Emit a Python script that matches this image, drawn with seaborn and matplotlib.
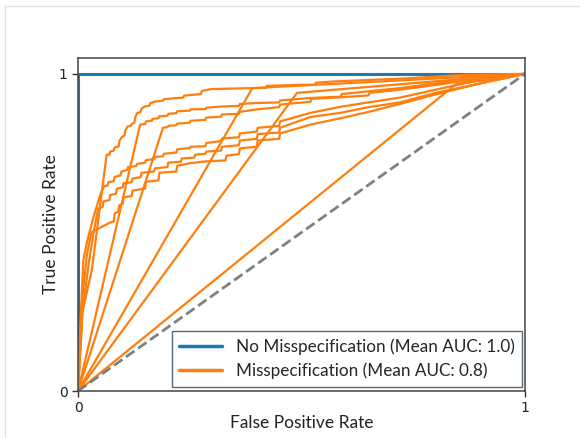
import matplotlib
matplotlib.use("Agg")
import matplotlib.pyplot as plt
from matplotlib.lines import Line2D
import pandas as pd
import seaborn as sns

# ---------------- data ----------------
no_mis_fpr = [0.0, 0.0, 1.0]
no_mis_tpr = [0.0, 1.0, 1.0]

s1_fpr = [0, 0.010, 0.031, 0.064, 0.070, 0.072, 0.080, 0.082, 0.091, 0.093, 0.099, 0.104,
          0.106, 0.111, 0.118, 0.120, 0.126, 0.128, 0.132, 0.140, 0.142, 0.149, 0.160,
          0.162, 0.174, 0.190, 0.192, 0.215, 0.235, 0.237, 0.256, 0.275, 0.277, 0.298,
          0.389, 0.420, 0.422, 0.489, 0.530, 0.532, 0.572, 0.655, 0.738, 0.862, 1.0]
s1_tpr = [0, 0.250, 0.382, 0.745, 0.745, 0.755, 0.758, 0.768, 0.771, 0.790, 0.802, 0.805,
          0.822, 0.834, 0.836, 0.842, 0.846, 0.862, 0.876, 0.880, 0.890, 0.897, 0.900,
          0.908, 0.913, 0.915, 0.920, 0.923, 0.925, 0.931, 0.934, 0.936, 0.946, 0.952,
          0.955, 0.956, 0.962, 0.965, 0.966, 0.972, 0.976, 0.981, 0.986, 0.997, 1.0]

c2_fpr = [0, 0.139, 0.150, 0.152, 0.165, 0.167, 0.180, 0.182, 0.200, 0.202, 0.220, 0.222,
          0.250, 0.252, 0.285, 0.287, 0.320, 0.360, 0.362, 0.400, 0.450, 0.452, 0.520,
          0.587, 0.590, 0.650, 0.720, 0.800, 0.880, 1.0]
c2_tpr = [0, 0.840, 0.842, 0.850, 0.852, 0.858, 0.860, 0.866, 0.868, 0.874, 0.876, 0.882,
          0.884, 0.888, 0.889, 0.893, 0.897, 0.899, 0.905, 0.908, 0.910, 0.916, 0.924,
          0.928, 0.936, 0.945, 0.955, 0.970, 0.985, 1.0]

c3_fpr = [0, 0.190, 0.200, 0.202, 0.220, 0.222, 0.250, 0.252, 0.285, 0.287, 0.320, 0.322,
          0.360, 0.362, 0.400, 0.450, 0.452, 0.520, 0.522, 0.587, 0.650, 0.652, 0.720,
          0.800, 0.900, 1.0]
c3_tpr = [0, 0.830, 0.832, 0.836, 0.838, 0.843, 0.846, 0.852, 0.855, 0.862, 0.865, 0.872,
          0.874, 0.880, 0.888, 0.895, 0.903, 0.912, 0.921, 0.926, 0.932, 0.940, 0.950,
          0.965, 0.985, 1.0]

m1_fpr = [0, 0.005, 0.012, 0.020, 0.035, 0.050, 0.058, 0.066, 0.068, 0.080, 0.082, 0.095,
          0.097, 0.110, 0.112, 0.130, 0.132, 0.150, 0.152, 0.170, 0.172, 0.190, 0.192,
          0.220, 0.222, 0.250, 0.252, 0.285, 0.287, 0.320, 0.322, 0.360, 0.362, 0.400,
          0.402, 0.450, 0.452, 0.520, 0.587, 0.650, 0.720, 0.800, 0.880, 1.0]
m1_tpr = [0, 0.200, 0.413, 0.470, 0.550, 0.620, 0.645, 0.648, 0.658, 0.662, 0.675, 0.680,
          0.692, 0.697, 0.706, 0.709, 0.716, 0.720, 0.728, 0.731, 0.738, 0.740, 0.748,
          0.752, 0.762, 0.766, 0.770, 0.772, 0.782, 0.788, 0.796, 0.800, 0.812, 0.818,
          0.830, 0.836, 0.850, 0.877, 0.896, 0.910, 0.925, 0.950, 0.975, 1.0]

m2_fpr = [0, 0.010, 0.025, 0.035, 0.045, 0.055, 0.057, 0.070, 0.072, 0.085, 0.087, 0.100,
          0.102, 0.120, 0.122, 0.140, 0.142, 0.170, 0.172, 0.200, 0.202, 0.230, 0.232,
          0.260, 0.262, 0.285, 0.287, 0.320, 0.322, 0.360, 0.362, 0.400, 0.402, 0.450,
          0.452, 0.520, 0.587, 0.650, 0.720, 0.800, 0.900, 1.0]
m2_tpr = [0, 0.250, 0.413, 0.500, 0.575, 0.580, 0.598, 0.602, 0.618, 0.622, 0.638, 0.642,
          0.655, 0.658, 0.670, 0.674, 0.688, 0.692, 0.702, 0.706, 0.720, 0.723, 0.733,
          0.736, 0.745, 0.748, 0.755, 0.758, 0.770, 0.775, 0.790, 0.795, 0.810, 0.815,
          0.830, 0.864, 0.877, 0.895, 0.910, 0.940, 0.970, 1.0]

m3_fpr = [0, 0.010, 0.020, 0.030, 0.050, 0.070, 0.080, 0.082, 0.090, 0.092, 0.100, 0.102,
          0.120, 0.122, 0.150, 0.152, 0.180, 0.182, 0.220, 0.222, 0.250, 0.285, 0.330,
          0.332, 0.360, 0.362, 0.400, 0.402, 0.450, 0.452, 0.520, 0.587, 0.650, 0.720,
          0.800, 0.900, 1.0]
m3_tpr = [0, 0.300, 0.430, 0.500, 0.515, 0.530, 0.535, 0.560, 0.565, 0.585, 0.590, 0.610,
          0.615, 0.632, 0.638, 0.660, 0.664, 0.688, 0.692, 0.710, 0.718, 0.724, 0.727,
          0.742, 0.747, 0.765, 0.770, 0.790, 0.795, 0.812, 0.840, 0.860, 0.880, 0.905,
          0.935, 0.970, 1.0]

la_fpr = [0, 0.390, 1.0]
la_tpr = [0, 0.955, 1.0]
lb_fpr = [0, 0.490, 1.0]
lb_tpr = [0, 0.940, 1.0]
lc_fpr = [0, 0.845, 1.0]
lc_tpr = [0, 0.967, 1.0]

chance = [0.0, 1.0]

legend_labels = ["No Misspecification (Mean AUC: 1.0)", "Misspecification (Mean AUC: 0.8)"]
tick_vals = [0, 1]
tick_text = ["0", "1"]

# ---------------- table for seaborn ----------------
curves = [
    ("s1", s1_fpr, s1_tpr), ("c2", c2_fpr, c2_tpr), ("c3", c3_fpr, c3_tpr),
    ("m1", m1_fpr, m1_tpr), ("m2", m2_fpr, m2_tpr), ("m3", m3_fpr, m3_tpr),
    ("la", la_fpr, la_tpr), ("lb", lb_fpr, lb_tpr), ("lc", lc_fpr, lc_tpr),
]
rows = []
for name, xs, ys in curves:
    for i, (x, y) in enumerate(zip(xs, ys)):
        rows.append({"curve": name, "order": i, "fpr": x, "tpr": y})
mis_df = pd.DataFrame(rows)
nomis_df = pd.DataFrame({"fpr": no_mis_fpr, "tpr": no_mis_tpr})
chance_df = pd.DataFrame({"fpr": chance, "tpr": chance})

BLUE = "#1f77b4"
ORANGE = "#ff7f0e"

sns.set_style("ticks")
label_font = ["Lato", "DejaVu Sans"]

fig = plt.figure(figsize=(5.8, 4.38), dpi=100)
ax = fig.add_axes([0.1345, 0.1073, 0.7707, 0.7603])

sns.lineplot(data=nomis_df, x="fpr", y="tpr", sort=False, estimator=None,
             color=BLUE, lw=2.2, ax=ax)
sns.lineplot(data=mis_df, x="fpr", y="tpr", units="curve", sort=False, estimator=None,
             color=ORANGE, lw=1.6, ax=ax)
sns.lineplot(data=chance_df, x="fpr", y="tpr", sort=False, estimator=None,
             color="gray", lw=2, linestyle="--", ax=ax)

ax.set_xlim(0, 1)
ax.set_ylim(0, 1.05)
ax.set_xticks(tick_vals)
ax.set_xticklabels(tick_text)
ax.set_yticks(tick_vals)
ax.set_yticklabels(tick_text)
ax.tick_params(axis="both", labelsize=10, length=4, width=1, color="#333333",
               labelcolor="#222222", direction="out")
for sp in ax.spines.values():
    sp.set_visible(True)
    sp.set_color("#444444")
    sp.set_linewidth(1.1)

ax.set_xlabel("False Positive Rate", fontsize=12.5, family=label_font, color="#222222",
              labelpad=0)
ax.set_ylabel("True Positive Rate", fontsize=12.5, family=label_font, color="#222222",
              labelpad=0)

handles = [Line2D([], [], color=BLUE, lw=2.5), Line2D([], [], color=ORANGE, lw=2.5)]
leg = ax.legend(handles, legend_labels, loc="lower right", bbox_to_anchor=(0.994, 0.012),
                borderaxespad=0, fancybox=False, framealpha=1, edgecolor="#5a6a78",
                prop={"family": label_font, "size": 12.3}, handlelength=2.5,
                handletextpad=0.8, labelspacing=0.45, borderpad=0.45)
leg.get_frame().set_linewidth(1.0)

# light screenshot frame
fig.add_artist(Line2D([5 / 580, 5 / 580], [0, 1 - 6 / 438], transform=fig.transFigure,
                      color="#e3e3e3", lw=1))
fig.add_artist(Line2D([5 / 580, 1], [1 - 6 / 438, 1 - 6 / 438], transform=fig.transFigure,
                      color="#e3e3e3", lw=1))

fig.savefig("out.png", dpi=100)
